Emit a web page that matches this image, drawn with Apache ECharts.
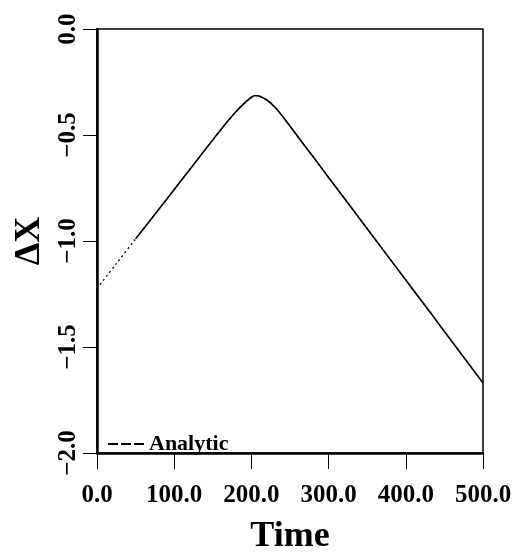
<!DOCTYPE html>
<html>
<head>
<meta charset="utf-8">
<script src="https://cdn.jsdelivr.net/npm/echarts@6/dist/echarts.min.js"></script>
<style>
  html, body { margin: 0; padding: 0; background: #fff; }
  #chart { width: 521px; height: 560px; }
</style>
</head>
<body>
<div id="chart"></div>
<script>
// values
var analyticTime = [0, 25, 50, 75, 100, 125, 150, 170, 180, 190, 200, 205, 210, 220, 230, 240, 260, 280, 300, 350, 400, 435];
var analyticDX   = [-1.224, -1.107, -0.990, -0.874, -0.757, -0.640, -0.523, -0.432, -0.390, -0.353, -0.322, -0.314, -0.316, -0.335, -0.367, -0.410, -0.507, -0.603, -0.700, -0.942, -1.184, -1.353];
var simTime = [50, 75, 100, 125, 150, 170, 180, 190, 200, 205, 210, 220, 230, 240, 260, 280, 300, 350, 400, 435, 450, 500];
var simDX   = [-0.990, -0.874, -0.757, -0.640, -0.523, -0.432, -0.390, -0.353, -0.322, -0.314, -0.316, -0.335, -0.367, -0.410, -0.507, -0.603, -0.700, -0.942, -1.184, -1.353, -1.427, -1.670];
var xTicks = [0, 100, 200, 300, 400, 500];
var yTicks = [-2, -1.5, -1, -0.5, 0];

function pairs(xs, ys) {
  var out = [];
  for (var i = 0; i < xs.length; i++) out.push([xs[i], ys[i]]);
  return out;
}

var font = 'Liberation Serif';
// three short dashes for the legend key
var dashIcon = 'path://M0,0L10,0L10,2L0,2Z M13,0L23,0L23,2L13,2Z M26,0L36,0L36,2L26,2Z';
var chart = echarts.init(document.getElementById('chart'), null, { renderer: 'canvas' });

var option = {
  backgroundColor: '#fff',
  animation: false,
  grid: {
    left: 97, right: 38, top: 29, bottom: 103,
    show: true, borderColor: '#000', borderWidth: 1.5
  },
  legend: {
    left: 103, top: 428,
    data: [{ name: 'Analytic', icon: dashIcon }],
    itemWidth: 36, itemHeight: 2, itemGap: 8,
    itemStyle: { color: '#000', borderWidth: 0 },
    textStyle: { fontFamily: font, fontWeight: 'bold', fontSize: 22, color: '#000' }
  },
  xAxis: {
    type: 'value',
    min: xTicks[0], max: xTicks[xTicks.length - 1], interval: 100,
    name: 'Time',
    nameLocation: 'middle',
    nameGap: 66,
    nameTextStyle: { fontFamily: font, fontWeight: 'bold', fontSize: 36, color: '#000' },
    axisLine: { show: true, onZero: false, lineStyle: { color: '#000', width: 2.5 } },
    axisTick: { show: true, inside: false, length: 16, lineStyle: { color: '#000', width: 1 } },
    axisLabel: {
      margin: 30, fontFamily: font, fontWeight: 'bold', fontSize: 25, color: '#000',
      formatter: function (v) { return v.toFixed(1); }
    },
    splitLine: { show: false }
  },
  yAxis: {
    type: 'value',
    min: yTicks[0], max: yTicks[yTicks.length - 1], interval: 0.5,
    name: 'ΔX',
    nameLocation: 'middle',
    nameGap: 46,
    nameTextStyle: { fontFamily: font, fontWeight: 'bold', fontSize: 36, color: '#000' },
    axisLine: { show: true, onZero: false, lineStyle: { color: '#000', width: 2.5 } },
    axisTick: { show: true, inside: false, length: 14, lineStyle: { color: '#000', width: 1 } },
    axisLabel: {
      rotate: 90, margin: 16, fontFamily: font, fontWeight: 'bold', fontSize: 25, color: '#000',
      formatter: function (v) { return v.toFixed(1).replace('-', '\u2212'); }
    },
    splitLine: { show: false }
  },
  series: [
    {
      name: 'Analytic',
      type: 'line',
      data: pairs(analyticTime, analyticDX),
      symbol: 'none',
      smooth: 0.3,
      itemStyle: { color: '#000' },
      lineStyle: { color: '#000', width: 1.3, type: [2, 3] },
      z: 3
    },
    {
      name: 'Simulation',
      type: 'line',
      data: pairs(simTime, simDX),
      symbol: 'none',
      smooth: 0.3,
      itemStyle: { color: '#000' },
      lineStyle: { color: '#000', width: 1.6, type: 'solid' },
      z: 2
    }
  ]
};
chart.setOption(option);
</script>
</body>
</html>
